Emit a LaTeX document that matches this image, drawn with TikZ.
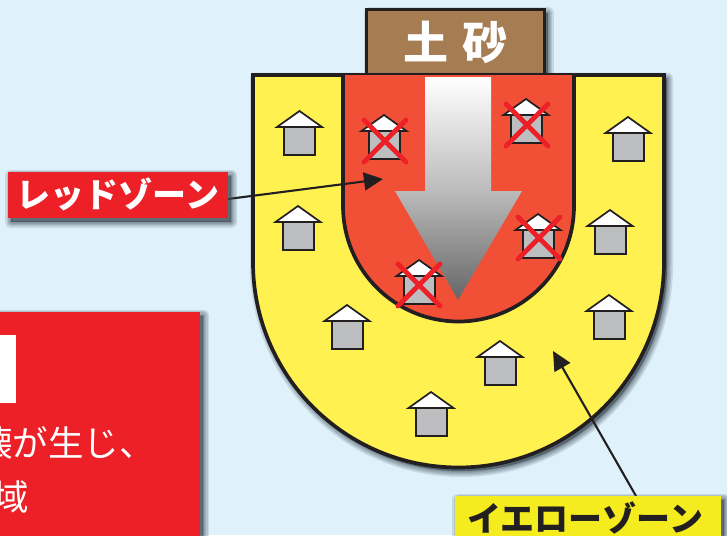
\documentclass[tikz,border=0pt]{standalone}
\usepackage{fontspec}
\usetikzlibrary{arrows.meta}
\newfontfamily\jp{Noto Sans CJK JP}
\definecolor{bgc}{HTML}{DFF2FB}
\definecolor{panelred}{HTML}{ED1F27}
\definecolor{zonered}{HTML}{F15036}
\definecolor{zoneyellow}{HTML}{FFF150}
\definecolor{labyellow}{HTML}{F4EC1E}
\definecolor{soil}{HTML}{A67C52}
\definecolor{ink}{HTML}{231F20}
\definecolor{wallgray}{HTML}{BCBEC0}
\definecolor{shc}{HTML}{3A4A55}
\newcommand{\softshadow}[1]{\foreach \w in {12,9,6.5,4,2,0.5}{\draw[line width=\w pt,draw=shc,fill=shc,opacity=.15,line join=round,shift={(3,3.5)}] #1;}}
\tikzset{
  zoneline/.style={draw=ink,line width=3.7pt,line join=miter},
  conn/.style={draw=ink,line width=2.1pt,-{Triangle[length=19pt,width=18pt]},shorten >=0pt},
  zonelabel/.style={font=\jp\bfseries\fontsize{34}{34}\selectfont,inner sep=0pt,text height=28pt,text depth=3pt},
  panetext/.style={font=\jp\fontsize{35.5}{35.5}\selectfont,text=white,inner sep=0pt},
  housepic/.pic={
    \draw[ink,line width=2pt,fill=wallgray,line join=miter] (-15.5,16) -- (-15.5,44) -- (15.5,44) -- (15.5,16);
    \draw[ink,line width=1.7pt,fill=white,line join=miter] (0,0) -- (22.5,16) -- (-22.5,16) -- cycle;
  },
  crosspic/.pic={
    \draw[draw=panelred,line width=4.8pt,line cap=round] (-21,-21) -- (21,21) (-21,21) -- (21,-21);
  }
}
\begin{document}
\begin{tikzpicture}[x=1pt,y=-1pt]
\useasboundingbox (0,0) rectangle (727,535);
\clip (0,0) rectangle (727,535);
\fill[bgc] (0,0) rectangle (727,535);
% red panel
\softshadow{(-20,312) rectangle (200,560)}
\fill[panelred] (-20,312) rectangle (200,560);
\fill[white] (-20,335) rectangle (16,403);
\node[panetext,anchor=west] (panelone) at (-23,443) {壊が生じ、};
\node[panetext,anchor=east] (paneltwo) at (29.5,497) {域};
% soil box
\softshadow{(366.5,9.5) rectangle (544.5,75)}
\node[draw=ink,line width=3.5pt,fill=soil,minimum width=178pt,minimum height=65.5pt,inner sep=0pt,text=white,font=\jp\bfseries\fontsize{45}{45}\selectfont] (soilbox) at (455.5,42.2) {土\hspace{0.33em}砂};
% yellow zone
\softshadow{(253,75) -- (253,262) .. controls (253,375.5) and (345,467.5) .. (458.5,467.5) .. controls (572,467.5) and (664,375.5) .. (664,262) -- (664,75) -- cycle}
\draw[zoneline,fill=zoneyellow] (253,75) -- (253,262) .. controls (253,375.5) and (345,467.5) .. (458.5,467.5) .. controls (572,467.5) and (664,375.5) .. (664,262) -- (664,75) -- cycle;
% red zone
\draw[zoneline,fill=zonered] (343,75) -- (343,206) .. controls (343,269.8) and (394.7,321.5) .. (458.5,321.5) .. controls (522.3,321.5) and (574,269.8) .. (574,206) -- (574,75);
% big arrow
\shade[top color=white,bottom color=black!60,middle color=black!26]
  (425,77) -- (491,77) -- (491,191) -- (522,191) -- (458,300) -- (395,191) -- (425,191) -- cycle;
% houses
\foreach \hx/\hy in {299.5/111,628/117,298/206,610/210,609/295,347/305,500/341,431/392,384/115,526/99,538/214,419/260}
  \pic at (\hx,\hy) {housepic};
\foreach \cx/\cy in {385/141,527/125,539/238,419/285}
  \pic at (\cx,\cy) {crosspic};
% connectors
\coordinate (redstart) at (228,199);
\coordinate (redtip) at (383,179);
\coordinate (yellowstart) at (636,496);
\coordinate (yellowtip) at (553,351);
\draw[conn] (redstart) -- (redtip);
\draw[conn] (yellowstart) -- (yellowtip);
% labels
\softshadow{(8,172) rectangle (228,218)}
\node[zonelabel,fill=panelred,text=white,minimum width=220pt,minimum height=46pt] (redlabel) at (118,195) {レッドゾーン};
\softshadow{(455,496) rectangle (721,560)}
\fill[labyellow] (455,496) rectangle (721,560);
\node[zonelabel,text=ink,anchor=center] (yellowlabel) at (585,519) {イエローゾーン};
\end{tikzpicture}
\end{document}
